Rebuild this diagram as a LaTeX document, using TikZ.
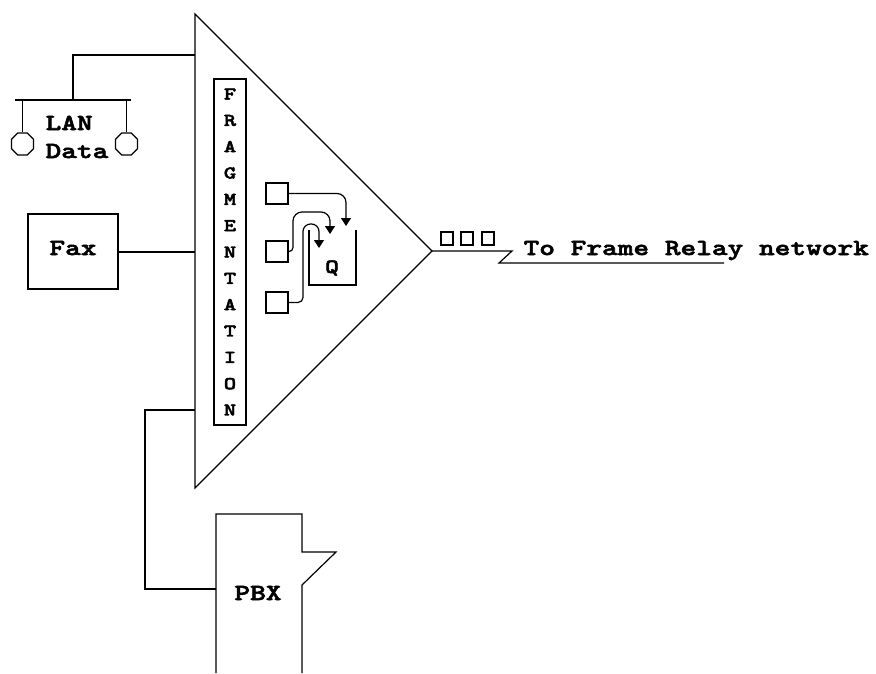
\documentclass[tikz,border=0pt]{standalone}
\usepackage{fontspec}
\newfontfamily\lblfont{lmmonolt10-bold.otf}[FakeStretch=1.3,FakeBold=2.5]
\usetikzlibrary{shapes.geometric,arrows.meta}
\begin{document}
\begin{tikzpicture}[x=1pt,y=-1pt,line width=1.2pt,
  lbl/.style={font=\lblfont\fontsize{23}{23}\selectfont,inner sep=0pt},
  box/.style={draw,inner sep=0pt},
  oct/.style={draw,regular polygon,regular polygon sides=8,minimum size=24pt,inner sep=0pt},
  sq/.style={draw,inner sep=0pt,minimum width=22pt,minimum height=21pt},
  pkt/.style={draw,inner sep=0pt,minimum width=12pt,minimum height=13pt},
  arr/.style={-{Triangle[length=8pt,width=10pt]}}]
\useasboundingbox (0,0) rectangle (876,673);
% triangle (multiplexer)
\coordinate (tT) at (195,14);
\coordinate (tB) at (195,488);
\coordinate (tA) at (432,251);
\draw (tT) -- (tA) -- (tB) -- cycle;
% fragmentation box
\node[box,minimum width=32pt,minimum height=346pt,align=center,
  font=\lblfont\fontsize{18}{26.33}\selectfont] (frag) at (230,252)
  {F\\R\\A\\G\\M\\E\\N\\T\\A\\T\\I\\O\\N};
% LAN
\coordinate (lanIn) at (195,55);
\coordinate (lanBus) at (73,100);
\coordinate (busL) at (15,100);
\coordinate (busR) at (131,100);
\coordinate (legL) at (22.5,100);
\coordinate (legR) at (126.5,100);
\node[oct] (oL) at (22.5,144) {};
\node[oct] (oR) at (126.5,144) {};
\draw (lanIn) -| (lanBus);
\draw (busL) -- (busR);
\draw (legL) -- (oL.north);
\draw (legR) -- (oR.north);
\node[lbl,anchor=base west] (lan) at (45,130) {LAN};
\node[lbl,anchor=base west] (data) at (45,158) {Data};
% Fax
\node[box,minimum width=90pt,minimum height=75pt] (fax) at (73,251.5) {};
\node[lbl,anchor=base] (faxt) at (73,255) {Fax};
\coordinate (faxIn) at (195,252);
\draw (fax.east |- faxIn) -- (faxIn);
% PBX
\coordinate (pbxIn) at (195,410);
\coordinate (pbxC) at (145,410);
\coordinate (pbxL) at (216,589);
\coordinate (p1) at (216,673);
\coordinate (p2) at (216,514);
\coordinate (p3) at (302,514);
\coordinate (p4) at (302,552);
\coordinate (p5) at (336,552);
\coordinate (p6) at (302,585);
\coordinate (p7) at (302,673);
\draw (p1) -- (p2) -- (p3) -- (p4) -- (p5) -- (p6) -- (p7);
\draw (pbxIn) -- (pbxC) |- (pbxL);
\node[lbl,anchor=base] (pbx) at (258,600) {PBX};
% queue
\node[sq] (s1) at (277,193.5) {};
\node[sq] (s2) at (277,251.5) {};
\node[sq] (s3) at (277,302.5) {};
\coordinate (qTL) at (309,230);
\coordinate (qBL) at (309,285);
\coordinate (qBR) at (356,285);
\coordinate (qTR) at (356,230);
\draw (qTL) -- (qBL) -- (qBR) -- (qTR);
\node[font=\lblfont\fontsize{20}{20}\selectfont,inner sep=0pt] (q) at (332,268) {Q};
\coordinate (a1) at (346,226);
\draw[arr,rounded corners=9pt] (s1.east) -| (a1);
\coordinate (a2c) at (293,251.5);
\coordinate (a2u) at (293,212);
\coordinate (a2r) at (330,212);
\coordinate (a2) at (330,234);
\draw[arr] (s2.east) [rounded corners=4pt] -- (a2c) [rounded corners=9pt] -- (a2u) -- (a2r) -- (a2);
\coordinate (a3c) at (303,302.5);
\coordinate (a3u) at (303,224);
\coordinate (a3r) at (319,224);
\coordinate (a3) at (319,248);
\draw[arr] (s3.east) [rounded corners=5pt] -- (a3c) [rounded corners=7.5pt] -- (a3u) -- (a3r) -- (a3);
% output link
\coordinate (z1) at (512,251);
\coordinate (z2) at (499,263);
\coordinate (z3) at (724,263);
\draw (tA) -- (z1) -- (z2) -- (z3);
\node[pkt] (k1) at (447,238.5) {};
\node[pkt] (k2) at (467,238.5) {};
\node[pkt] (k3) at (488,238.5) {};
\node[lbl,anchor=base west] (out) at (523,255) {To Frame Relay network};
\end{tikzpicture}
\end{document}
